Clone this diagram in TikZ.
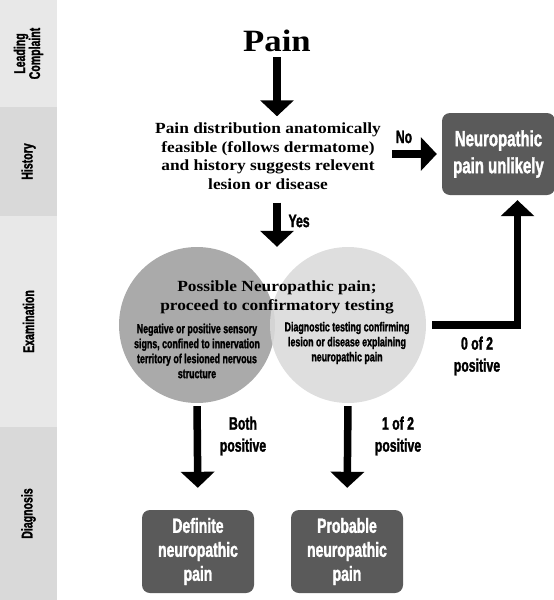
\documentclass[tikz,border=0pt]{standalone}
\usepackage{fontspec}
\newfontfamily\condsans[FakeStretch=0.68,FakeBold=1.5]{Liberation Sans Bold}
\newfontfamily\headserif[FakeStretch=1.12]{Liberation Serif}
\usetikzlibrary{arrows.meta}

\definecolor{bandlight}{HTML}{E8E8E8}
\definecolor{banddark}{HTML}{D9D9D9}
\definecolor{boxgray}{HTML}{5A5A5A}
\definecolor{leftgray}{HTML}{AAAAAA}
\definecolor{rightgray}{HTML}{DADADA}

\tikzset{
  band/.style={rectangle,inner sep=0pt,minimum height=57pt,rotate=90,align=center,
    font=\condsans\fontsize{15.5}{15}\selectfont},
  darkbox/.style={rectangle,rounded corners=8pt,fill=boxgray,text=white,align=center,
    minimum width=112pt,minimum height=83pt,font=\condsans\fontsize{20.5}{24}\selectfont},
  circ/.style={circle,minimum size=156pt,inner sep=0pt},
  lbl/.style={align=center,font=\condsans\fontsize{18}{22}\selectfont},
  serifbox/.style={align=center,font=\headserif\bfseries\fontsize{15.5}{18.5}\selectfont},
  smalltext/.style={align=center,font=\condsans\fontsize{13}{15}\selectfont},
  bigarrow/.style={line width=7.5pt,-{Triangle[width=33pt,length=16pt]}}
}

\begin{document}
\begin{tikzpicture}[x=1pt,y=-1pt]
 \useasboundingbox (0,0) rectangle (554,600);

 % stages on the left
 \node[band,fill=bandlight,minimum width=107pt] (lead) at (28.5,53.5) {Leading\\Complaint};
 \node[band,fill=banddark,minimum width=109pt] (history) at (28.5,161.5) {History};
 \node[band,fill=bandlight,minimum width=211pt] (exam) at (28.5,321.5) {Examination};
 \node[band,fill=banddark,minimum width=173pt] (diag) at (28.5,513.5) {Diagnosis};

 \node[font=\headserif\bfseries\fontsize{31}{31}\selectfont] (pain) at (277,41) {Pain};
 \node[serifbox] (hist) at (268,156)
   {Pain distribution anatomically\\feasible (follows dermatome)\\and history suggests relevent\\lesion or disease};
 \node[darkbox,minimum width=113pt,minimum height=82pt,font=\condsans\fontsize{22}{27}\selectfont]
   (unlikely) at (498.5,154) {Neuropathic\\pain unlikely};

 \node[circ,fill=leftgray] (signs) at (197,325) {};
 \node[circ,fill=rightgray,fill opacity=0.88] (tests) at (348,325) {};
 \node[serifbox,font=\headserif\bfseries\fontsize{15.5}{19}\selectfont] (poss) at (277,297)
   {Possible Neuropathic pain;\\proceed to confirmatory testing};
 \node[smalltext] (signstext) at (197,351) {Negative or positive sensory\\signs, confined to innervation\\territory of lesioned nervous\\structure};
 \node[smalltext] (teststext) at (347,343) {Diagnostic testing confirming\\lesion or disease explaining\\neuropathic pain};

 \node[darkbox] (definite) at (198,551.5) {Definite\\neuropathic\\pain};
 \node[darkbox] (probable) at (347,551.5) {Probable\\neuropathic\\pain};

 \node[lbl] (no) at (404,137) {No};
 \node[lbl,anchor=west] (yes) at (285,221) {Yes};
 \node[lbl] (none) at (477,356) {0 of 2\\positive};
 \node[lbl] (both) at (243,436) {Both\\positive};
 \node[lbl] (one) at (398,436) {1 of 2\\positive};

 \draw[bigarrow,shorten <=2pt,shorten >=3pt] (pain) -- (pain |- hist.north);
 \draw[bigarrow,shorten <=10pt] (pain |- hist.south) -- (pain |- signs.north);
 \draw[bigarrow,shorten <=8pt,shorten >=5pt] (hist.east |- unlikely.west) -- (unlikely.west);
 \draw[bigarrow,shorten <=6pt,shorten >=5pt] (tests.east) -| ([xshift=19pt]unlikely.south);
 \draw[bigarrow,shorten <=3pt,shorten >=22pt] (signs.south) -- (definite.north);
 \draw[bigarrow,shorten <=3pt,shorten >=22pt] (tests.south) -- (probable.north);
\end{tikzpicture}
\end{document}
